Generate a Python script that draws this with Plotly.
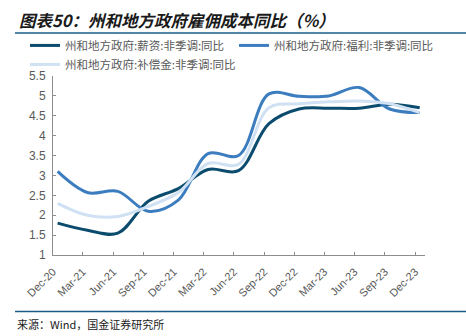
import plotly.graph_objects as go

# ---- data ----
quarters = ["2020-12-15", "2021-03-15", "2021-06-15", "2021-09-15", "2021-12-15",
            "2022-03-15", "2022-06-15", "2022-09-15", "2022-12-15", "2023-03-15",
            "2023-06-15", "2023-09-15", "2023-12-15"]
wages = [1.80, 1.62, 1.55, 2.35, 2.67, 3.15, 3.12, 4.30, 4.67, 4.69, 4.69, 4.79, 4.70]
benefits = [3.10, 2.57, 2.60, 2.10, 2.38, 3.55, 3.50, 5.05, 4.99, 5.00, 5.21, 4.67, 4.58]
compensation = [2.30, 2.00, 1.97, 2.22, 2.57, 3.30, 3.28, 4.70, 4.80, 4.85, 4.87, 4.80, 4.58]

series_names = ["州和地方政府:薪资:非季调:同比",
                "州和地方政府:福利:非季调:同比",
                "州和地方政府:补偿金:非季调:同比"]
series_colors = ["#0A4B6E", "#3C7DBF", "#CFE1F3"]

tick_dates = ["2020-12-01", "2021-03-01", "2021-06-01", "2021-09-01", "2021-12-01",
              "2022-03-01", "2022-06-01", "2022-09-01", "2022-12-01", "2023-03-01",
              "2023-06-01", "2023-09-01", "2023-12-01"]
tick_labels = ["Dec-20", "Mar-21", "Jun-21", "Sep-21", "Dec-21", "Mar-22", "Jun-22",
               "Sep-22", "Dec-22", "Mar-23", "Jun-23", "Sep-23", "Dec-23"]
y_ticks = [1, 1.5, 2, 2.5, 3, 3.5, 4, 4.5, 5, 5.5]
y_labels = ["1", "1.5", "2", "2.5", "3", "3.5", "4", "4.5", "5", "5.5"]

title_text = "图表50：州和地方政府雇佣成本同比（%）"
source_text = "来源：Wind，国金证券研究所"

# ---- layout geometry (pixels) ----
W, H = 466, 336
L, R, T, B = 53, 425, 76, 254.7
pw, ph = R - L, B - T


def px2x(px):
    return (px - L) / pw


def px2y(py):
    return (B - py) / ph


fig = go.Figure()
for name, vals, col in zip(series_names, [wages, benefits, compensation], series_colors):
    fig.add_trace(go.Scatter(
        x=quarters, y=vals, name=name, mode="lines",
        line=dict(color=col, width=3, shape="spline", smoothing=1.0),
    ))

axis_col = "#8C8C8C"
font_col = "#595959"
cjk = "Noto Sans CJK SC"

fig.update_layout(
    width=W, height=H,
    margin=dict(l=L, r=W - R, t=T, b=H - B),
    paper_bgcolor="white", plot_bgcolor="white",
    font=dict(family=cjk, size=11, color=font_col),
    showlegend=True,
    legend=dict(
        orientation="h", x=px2x(25), y=px2y(31), xanchor="left", yanchor="top",
        xref="paper", yref="paper",
        font=dict(family=cjk, size=11.5, color=font_col),
        itemwidth=30, entrywidth=164, entrywidthmode="pixels",
        tracegroupgap=0, bgcolor="rgba(0,0,0,0)",
    ),
    xaxis=dict(
        type="date", range=["2020-12-01", "2023-12-31"],
        tickvals=tick_dates, ticktext=tick_labels, tickangle=-45,
        showline=True, linecolor=axis_col, linewidth=1,
        ticks="inside", ticklen=3, tickcolor=axis_col,
        showgrid=False, zeroline=False, ticklabelstandoff=5,
        tickfont=dict(family="Liberation Sans, Arial", size=11, color=font_col),
    ),
    yaxis=dict(
        range=[1, 5.5], tickvals=y_ticks, ticktext=y_labels,
        showline=True, linecolor=axis_col, linewidth=1,
        ticks="inside", ticklen=3, tickcolor=axis_col,
        showgrid=False, zeroline=False, ticklabelstandoff=4,
        tickfont=dict(family="Liberation Sans, Arial", size=12, color=font_col),
    ),
)

# title
fig.add_annotation(
    xref="paper", yref="paper", x=px2x(17), y=px2y(20),
    xanchor="left", yanchor="middle", showarrow=False,
    text="<b><i>" + title_text + "</i></b>",
    font=dict(family=cjk, size=16.5, color="#1A1A1A"),
)
# title rule
fig.add_shape(type="line", xref="paper", yref="paper",
              x0=px2x(15), x1=px2x(W), y0=px2y(33), y1=px2y(33),
              line=dict(color="#1D5C86", width=1.5))
# footer rule
fig.add_shape(type="line", xref="paper", yref="paper",
              x0=px2x(15), x1=px2x(W), y0=px2y(311), y1=px2y(311),
              line=dict(color="#1D5C86", width=1.5))
# source
fig.add_annotation(
    xref="paper", yref="paper", x=px2x(15), y=px2y(324),
    xanchor="left", yanchor="middle", showarrow=False,
    text=source_text, font=dict(family=cjk, size=11, color="#1A1A1A"),
)

fig.write_html("out.html")
